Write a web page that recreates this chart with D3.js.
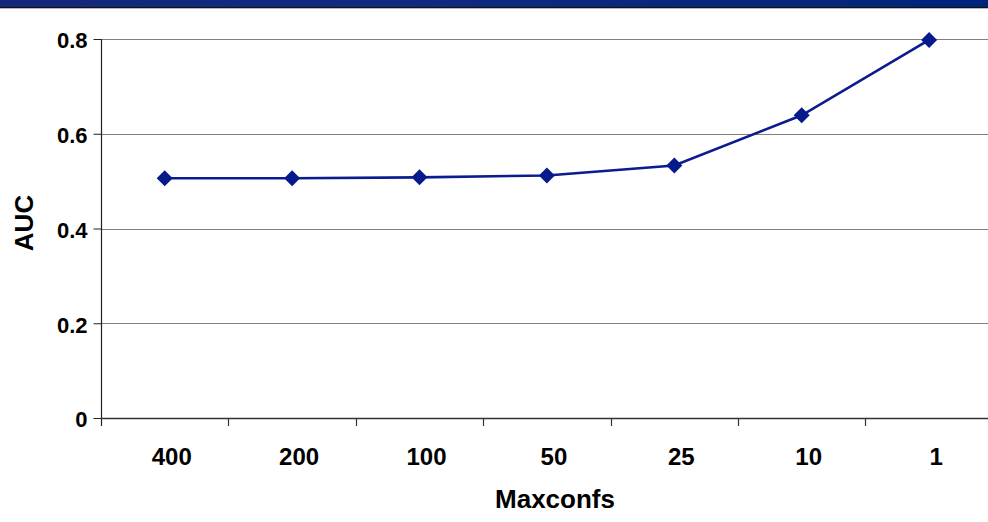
<!DOCTYPE html>
<html>
<head>
<meta charset="utf-8">
<script src="https://cdn.jsdelivr.net/npm/d3@7"></script>
<style>
  html, body { margin: 0; padding: 0; background: #fff; }
  svg { display: block; }
  text { font-family: "Liberation Sans", Arial, sans-serif; font-weight: bold; fill: #000; }
</style>
</head>
<body>
<svg id="chart" width="988" height="522"></svg>
<script>
// AUC as the maxconfs limit is reduced
const categories = ["400", "200", "100", "50", "25", "10", "1"];
const aucValues = [0.506, 0.506, 0.508, 0.512, 0.533, 0.639, 0.798];
const yTicks = [0, 0.2, 0.4, 0.6, 0.8];
const xTitle = "Maxconfs";
const yTitle = "AUC";

const W = 988, H = 522;
const plotLeft = 101, plotTop = 39, plotBottom = 418;
const step = 127.4;

const svg = d3.select("#chart");

// header strip
const defs = svg.append("defs");
const grad = defs.append("linearGradient").attr("id", "band").attr("x1", 0).attr("x2", 1);
grad.append("stop").attr("offset", "0%").attr("stop-color", "#15297c");
grad.append("stop").attr("offset", "45%").attr("stop-color", "#0f2a7e");
grad.append("stop").attr("offset", "100%").attr("stop-color", "#00247a");
svg.append("rect").attr("x", 0).attr("y", 0).attr("width", W).attr("height", 7).attr("fill", "url(#band)");
svg.append("rect").attr("x", 0).attr("y", 7).attr("width", W).attr("height", 1.3).attr("fill", "#111");

const x = d3.scaleBand().domain(categories).range([plotLeft, plotLeft + step * categories.length]).padding(0);
const y = d3.scaleLinear().domain([0, 0.8]).range([plotBottom, plotTop]);

// horizontal gridlines
svg.append("g").selectAll("line").data(yTicks.filter(d => d > 0)).join("line")
  .attr("x1", plotLeft).attr("x2", W)
  .attr("y1", d => Math.round(y(d)) + 0.5).attr("y2", d => Math.round(y(d)) + 0.5)
  .attr("stroke", "#808080").attr("stroke-width", 1);

// y axis
const yAxis = svg.append("g").attr("transform", `translate(${plotLeft + 0.5},0)`)
  .call(d3.axisLeft(y).tickValues(yTicks).tickSize(8).tickPadding(6)
    .tickFormat(d => d === 0 ? "0" : d.toFixed(1)));
yAxis.select(".domain").remove();
yAxis.selectAll(".tick line").attr("stroke", "#222");
yAxis.selectAll(".tick text").attr("font-size", 22).attr("dy", "0.4em")
  .attr("font-family", "Liberation Sans, Arial, sans-serif").attr("font-weight", "bold").attr("fill", "#000");
svg.append("line").attr("x1", plotLeft + 0.5).attr("x2", plotLeft + 0.5).attr("y1", plotTop).attr("y2", plotBottom + 8)
  .attr("stroke", "#222").attr("stroke-width", 1.2);

// x axis baseline and category-boundary ticks
svg.append("line").attr("x1", plotLeft).attr("x2", W).attr("y1", plotBottom + 0.5).attr("y2", plotBottom + 0.5)
  .attr("stroke", "#333").attr("stroke-width", 1.6);
const boundaries = categories.map(c => x(c)).concat([x(categories[categories.length - 1]) + x.bandwidth()]);
svg.append("g").selectAll("line").data(boundaries.slice(1)).join("line")
  .attr("x1", d => Math.round(d) + 0.5).attr("x2", d => Math.round(d) + 0.5)
  .attr("y1", plotBottom).attr("y2", plotBottom + 8)
  .attr("stroke", "#333").attr("stroke-width", 1.2);

// category labels
const xAxis = svg.append("g").attr("transform", `translate(7,${plotBottom})`)
  .call(d3.axisBottom(x).tickSize(0).tickPadding(38));
xAxis.select(".domain").remove();
xAxis.selectAll(".tick text").attr("font-size", 24).attr("dy", "0.36em")
  .attr("font-family", "Liberation Sans, Arial, sans-serif").attr("font-weight", "bold").attr("fill", "#000");

// series line and diamond markers
const cx = d => x(d) + x.bandwidth() / 2;
const pts = categories.map((c, i) => [cx(c), y(aucValues[i])]);
svg.append("path").attr("d", d3.line()(pts))
  .attr("fill", "none").attr("stroke", "#0a1c90").attr("stroke-width", 2.6);
svg.append("g").selectAll("path").data(pts).join("path")
  .attr("d", d => `M${d[0]},${d[1] - 8}L${d[0] + 8},${d[1]}L${d[0]},${d[1] + 8}L${d[0] - 8},${d[1]}Z`)
  .attr("fill", "#061a8c");

// axis titles
svg.append("text").attr("x", 555).attr("y", 508).attr("text-anchor", "middle")
  .attr("font-size", 26).text(xTitle);
svg.append("text").attr("transform", "translate(33,223) rotate(-90)").attr("text-anchor", "middle")
  .attr("font-size", 26).text(yTitle);
</script>
</body>
</html>
